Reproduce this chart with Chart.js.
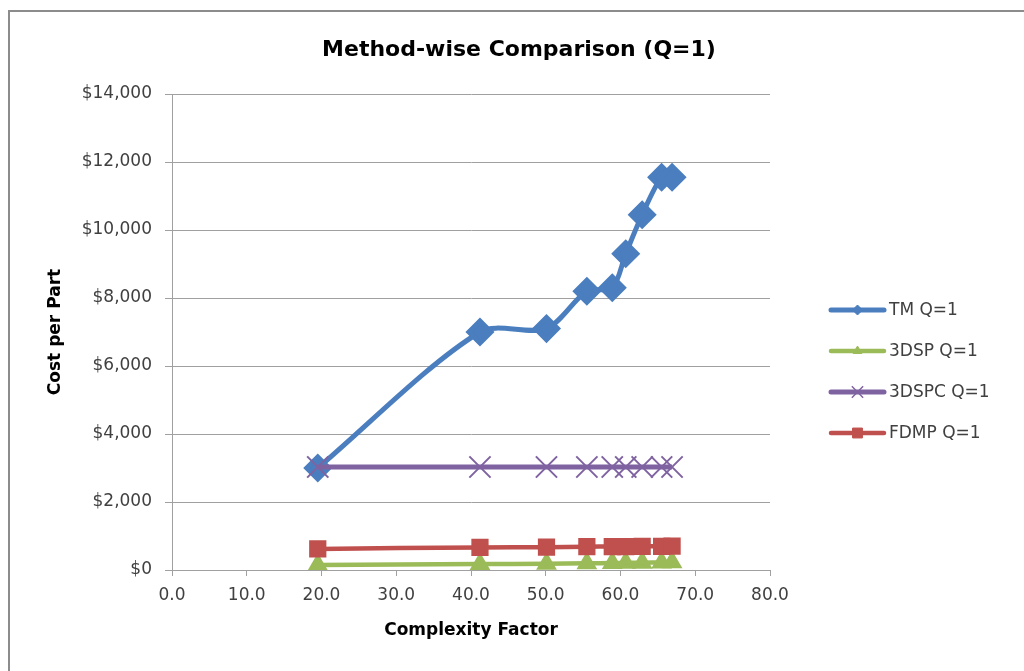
<!DOCTYPE html>
<html>
<head>
<meta charset="utf-8">
<title>Method-wise Comparison (Q=1)</title>
<script src="https://cdn.jsdelivr.net/npm/chart.js@4/dist/chart.umd.min.js"></script>
<style>
  html, body { margin: 0; padding: 0; background: #ffffff; }
  #wrap { width: 1024px; height: 671px; }
</style>
</head>
<body>
<div id="wrap"><canvas id="chart" width="1024" height="671"></canvas></div>
<script>
// Complexity factor of each part (shared x values)
const complexity = [19.5, 41.2, 50.1, 55.5, 58.9, 60.7, 62.9, 65.5, 66.9];

// Cost per part for each manufacturing method, quantity 1
const tmCost    = [3000, 7000, 7100, 8200, 8300, 9300, 10450, 11550, 11550];
const dspCost   = [150, 175, 185, 195, 205, 210, 215, 220, 225];
const dspcCost  = [3030, 3030, 3030, 3030, 3030, 3030, 3030, 3030, 3030];
const fdmpCost  = [620, 665, 670, 685, 690, 690, 695, 695, 700];

const seriesNames = ['TM Q=1', '3DSP Q=1', '3DSPC Q=1', 'FDMP Q=1'];
const chartTitle = 'Method-wise Comparison (Q=1)';

// Axis ticks
const xTicks = [0, 10, 20, 30, 40, 50, 60, 70, 80];
const yTicks = [0, 2000, 4000, 6000, 8000, 10000, 12000, 14000];

const FONT = "'DejaVu Sans', 'Liberation Sans', sans-serif";
const GRID = '#a0a0a0';
const TEXT = '#404040';

function pairs(ys) {
  return complexity.map((x, i) => ({ x: x, y: ys[i] }));
}

const datasets = [
  { label: seriesNames[0], data: pairs(tmCost), borderColor: '#4a7ebf', backgroundColor: '#4a7ebf',
    borderWidth: 5, pointStyle: 'rectRot', pointRadius: 11, tension: 0.3, order: 4,
    legendRadius: 5 },
  { label: seriesNames[1], data: pairs(dspCost), borderColor: '#9bbb59', backgroundColor: '#9bbb59',
    borderWidth: 4.5, pointStyle: 'triangle', pointRadius: 7.5, tension: 0.3, order: 3,
    legendRadius: 5 },
  { label: seriesNames[2], data: pairs(dspcCost), borderColor: '#7f63a1', backgroundColor: '#7f63a1',
    borderWidth: 5, pointStyle: 'crossRot', pointRadius: 15, pointBorderWidth: 2, tension: 0.3, order: 2,
    legendRadius: 8 },
  { label: seriesNames[3], data: pairs(fdmpCost), borderColor: '#c0504d', backgroundColor: '#c0504d',
    borderWidth: 4.5, pointStyle: 'rect', pointRadius: 9, tension: 0.3, order: 1,
    legendRadius: 7 }
];

// Outer chart frame, white background and the chart title
const framePlugin = {
  id: 'frame',
  beforeDraw(chart) {
    const ctx = chart.ctx;
    ctx.save();
    ctx.fillStyle = '#ffffff';
    ctx.fillRect(0, 0, chart.width, chart.height);
    ctx.strokeStyle = '#8c8c8c';
    ctx.lineWidth = 2;
    ctx.strokeRect(9, 11, chart.width + 20, chart.height + 20);
    ctx.fillStyle = '#000000';
    ctx.font = 'bold 22px ' + FONT;
    ctx.textAlign = 'center';
    ctx.textBaseline = 'middle';
    ctx.fillText(chartTitle, 519, 50);
    ctx.restore();
  }
};

// Legend on the right: line sample with marker, then the series name
const sideLegend = {
  id: 'sideLegend',
  afterDraw(chart) {
    const ctx = chart.ctx;
    const rows = [310, 351, 392, 433];
    const x0 = 831, x1 = 884, tx = 889;
    ctx.save();
    chart.data.datasets.forEach((ds, i) => {
      const y = rows[i];
      ctx.strokeStyle = ds.borderColor;
      ctx.lineWidth = ds.borderWidth;
      ctx.lineCap = 'round';
      ctx.beginPath();
      ctx.moveTo(x0, y);
      ctx.lineTo(x1, y);
      ctx.stroke();
      ctx.lineCap = 'butt';
      ctx.fillStyle = ds.backgroundColor;
      ctx.strokeStyle = ds.borderColor;
      ctx.lineWidth = ds.pointStyle === 'crossRot' ? 1.5 : 1;
      Chart.helpers.drawPoint(ctx, {
        pointStyle: ds.pointStyle,
        radius: ds.legendRadius,
        borderWidth: ctx.lineWidth,
        rotation: 0
      }, (x0 + x1) / 2, y);
      ctx.fillStyle = TEXT;
      ctx.font = '17px ' + FONT;
      ctx.textAlign = 'left';
      ctx.textBaseline = 'middle';
      ctx.fillText(ds.label, tx, y + 1);
    });
    ctx.restore();
  }
};

new Chart(document.getElementById('chart'), {
  type: 'line',
  data: { datasets: datasets },
  plugins: [framePlugin, sideLegend],
  options: {
    responsive: false,
    animation: false,
    devicePixelRatio: 1,
    layout: { padding: { left: 0, right: 254, top: 94, bottom: 0 } },
    plugins: {
      legend: { display: false },
      tooltip: { enabled: false },
      title: { display: false }
    },
    elements: {
      point: { borderWidth: 1 }
    },
    scales: {
      x: {
        type: 'linear',
        min: 0,
        max: 80,
        afterBuildTicks(scale) { scale.ticks = xTicks.map(v => ({ value: v })); },
        afterFit(scale) { scale.height = 101; },
        ticks: {
          color: TEXT,
          font: { family: FONT, size: 17 },
          padding: 9,
          maxRotation: 0,
          callback: v => Number(v).toFixed(1)
        },
        grid: { drawOnChartArea: false, drawTicks: true, tickLength: 6, color: GRID, lineWidth: 1 },
        border: { display: true, color: GRID, width: 1 },
        title: {
          display: true,
          text: 'Complexity Factor',
          color: '#000000',
          font: { family: FONT, size: 17, weight: 'bold', lineHeight: 1.2 },
          padding: { top: 0, bottom: 30 }
        }
      },
      y: {
        type: 'linear',
        min: 0,
        max: 14000,
        afterBuildTicks(scale) { scale.ticks = yTicks.map(v => ({ value: v })); },
        afterFit(scale) { scale.width = 172; },
        ticks: {
          color: TEXT,
          font: { family: FONT, size: 17 },
          padding: 13,
          callback: v => '$' + Number(v).toLocaleString('en-US')
        },
        grid: { drawOnChartArea: true, drawTicks: true, tickLength: 7, color: GRID, lineWidth: 1 },
        border: { display: true, color: GRID, width: 1 },
        title: {
          display: true,
          text: 'Cost per Part',
          color: '#000000',
          font: { family: FONT, size: 17, weight: 'bold', lineHeight: 1.2 },
          padding: { top: 45, bottom: 0 }
        }
      }
    }
  }
});
</script>
</body>
</html>
